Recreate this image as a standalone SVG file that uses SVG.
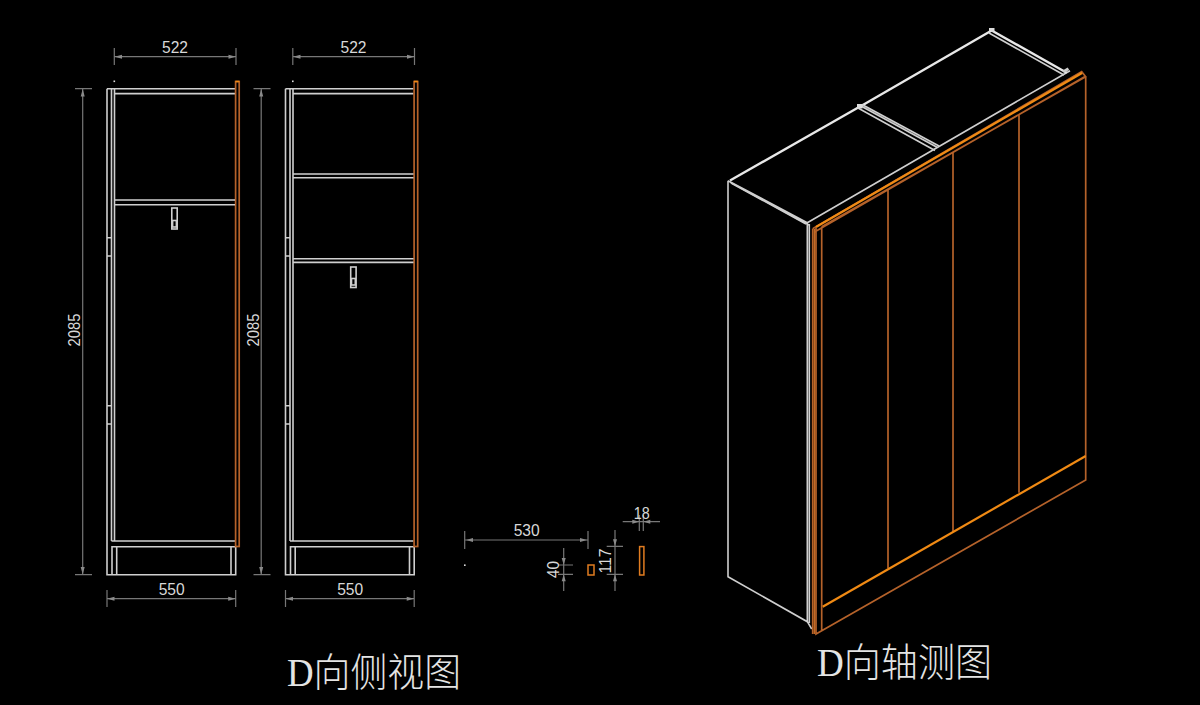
<svg xmlns="http://www.w3.org/2000/svg" width="1200" height="705" viewBox="0 0 1200 705">
<style>
.w{fill:none;stroke:#cfcfcf;stroke-width:1.6}
.wt{fill:none;stroke:#e8e8e8;stroke-width:2.4}
.o{fill:none;stroke:#b5622a;stroke-width:1.7}
.ob{fill:none;stroke:#f08a14;stroke-width:2.2}
.d{fill:none;stroke:#777;stroke-width:1.2}
.a{fill:#8a8a8a;stroke:none}
.t{font-family:"Liberation Sans",Arial,sans-serif;font-size:16.5px;fill:#d8d8d8;text-anchor:middle}
.h{font-family:"Liberation Serif","Noto Sans CJK SC",serif;font-size:39px;fill:#e4e4e4;font-weight:300}
</style>
<defs>
<g id="cab">
<path class="w" d="M107 88.7H235M114.5 93.6H235M107 88.7V574.7H235.7V546.7H112V574.7M111.5 88.7V541M114.5 88.7V541M111.5 541H235M116.7 546.7V574.7M231 546.7V574.7M107 237.7H111.5M107 256H111.5M107 405.7H111.5M107 424H111.5"/>
<rect class="o" x="235.6" y="81.5" width="3.6" height="465"/>
<path d="M235.5 81.5H239.3" stroke="#f08a14" stroke-width="1.6"/>
<rect x="113.5" y="80.5" width="1.6" height="1.6" fill="#ddd"/>
</g>
<g id="dims">
<path class="d" d="M114.3 48V65M236 48V65M107 590V607M235.7 590V607M75 88.7H92M75 574.7H92M82.7 88.7V574.7M114.3 56.7H236M107 598.7H235.7"/>
<path class="a" d="M114.5 56.7L122 54.7V58.7ZM236 56.7L228.5 54.7V58.7ZM107 598.7L114.5 596.7V600.7ZM235.7 598.7L228.2 596.7V600.7ZM82.7 89L80.7 96.5H84.7ZM82.7 574.5L80.7 567H84.7Z"/>
<text class="t" x="175" y="53" textLength="26" lengthAdjust="spacingAndGlyphs">522</text>
<text class="t" x="171.7" y="595" textLength="26" lengthAdjust="spacingAndGlyphs">550</text>
<text class="t" transform="translate(80 330) rotate(-90)" textLength="33" lengthAdjust="spacingAndGlyphs">2085</text>
</g>
</defs>
<rect width="1200" height="705" fill="#000"/>
<g id="side-view-1">
<use href="#cab"/>
<path class="w" d="M114.5 200H235M114.5 204.7H235"/>
<rect class="w" x="171.8" y="208" width="5.4" height="21"/>
<rect class="w" x="172.6" y="220.5" width="3.8" height="6.5"/>
</g>
<g id="side-view-2" transform="translate(178.5 0)">
<use href="#cab"/>
<path class="w" d="M114.5 174H235M114.5 177.8H235M114.5 258.7H235M114.5 262.4H235"/>
<rect class="w" x="172.2" y="267" width="5.4" height="20.5"/>
<rect class="w" x="173" y="278.5" width="3.8" height="6.5"/>
</g>
<g id="dimensions-1"><use href="#dims"/></g>
<g id="dimensions-2" transform="translate(178.5 0)"><use href="#dims"/></g>
<g id="section-parts">
<rect x="464" y="564.4" width="1.6" height="1.6" fill="#ddd"/>
<rect class="ob" style="stroke-width:1.5;stroke:#e07c20" x="588" y="565" width="6" height="10"/>
<rect class="ob" style="stroke-width:1.5;stroke:#e07c20" x="639.6" y="546.6" width="4.3" height="28.4"/>
</g>
<g id="section-dimensions">
<path class="d" d="M464.7 531V549M588 531V549M464.7 540H588M563.7 548V591M558 565H573M558 574.3H573M615 530V591M606.7 546.3H623M606.7 574.3H623M639.3 515V531M643.3 515V531M622.7 521.7H660"/>
<path class="a" d="M466 540L473 538V542ZM587 540L580 538V542ZM563.7 565L561.7 558H565.7ZM563.7 574.3L561.7 581.3H565.7ZM615 546.3L613 539.3H617ZM615 574.3L613 581.3H617ZM639.3 521.7L632.3 519.7V523.7ZM643.3 521.7L650.3 519.7V523.7Z"/>
<text class="t" x="526.7" y="536" textLength="26" lengthAdjust="spacingAndGlyphs">530</text>
<text class="t" transform="translate(559 569.5) rotate(-90)" textLength="17" lengthAdjust="spacingAndGlyphs">40</text>
<text class="t" transform="translate(611 561) rotate(-90)" textLength="25" lengthAdjust="spacingAndGlyphs">117</text>
<text class="t" x="641.7" y="519" textLength="16" lengthAdjust="spacingAndGlyphs">18</text>
</g>
<g id="axonometric-view">
<path class="w" d="M728 180.7V576.7L807.3 621.7L811.7 629M728 180.7L807.3 222.7V621.7M809.3 224V623M730 182L809 225M807.3 222.7L1070 70.7"/>
<path class="wt" d="M730 180.5L860 106.5M862 105.5L991.7 30.5M991.7 30.5L1066.7 72.7"/>
<path class="w" d="M858 108L935 150.5M860 105.5L937 147.3M862 104.5L939 146M989 33L1064 75M731 183L806 224"/>
<rect x="857" y="104" width="5.5" height="4.5" fill="#ddd"/>
<rect x="989" y="28" width="5.5" height="4" fill="#ddd"/>
<rect x="1037" y="70" width="6" height="3" fill="#ccc" transform="rotate(-30 1064 73) translate(27 0)"/>
<path class="o" d="M813 228.5L1081.7 71.7L1085.7 76.7L821.7 226.7M814.5 232L1085 76.5M812.7 228.5V634M816 228V634L1085.7 480V76.7M821.7 226.7V630M888 190V568.3M953 152V531.7M1019 114V492.7"/>
<path class="ob" d="M816 227L1082 73"/>
<path class="ob" d="M822.7 606.7L1085.7 456"/>
<path class="ob" style="stroke-width:1.6;stroke:#c46a24" d="M814.4 229V634"/>
</g>
<g id="titles">
<text class="h" x="287" y="686" textLength="174" lengthAdjust="spacingAndGlyphs">D向侧视图</text>
<text class="h" x="817" y="676" textLength="175" lengthAdjust="spacingAndGlyphs">D向轴测图</text>
</g>
</svg>
